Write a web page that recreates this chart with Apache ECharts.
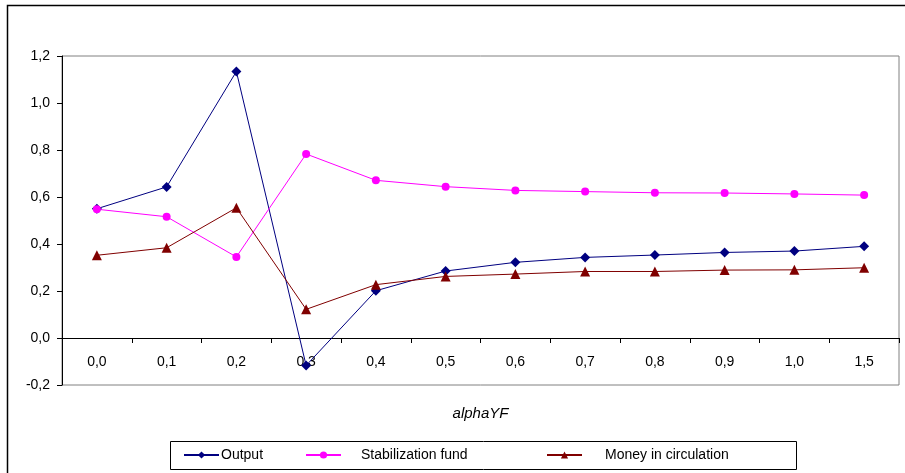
<!DOCTYPE html>
<html>
<head>
<meta charset="utf-8">
<script src="https://cdn.jsdelivr.net/npm/echarts@6/dist/echarts.min.js"></script>
<style>html,body{margin:0;padding:0;background:#fff}#c{width:905px;height:473px}</style>
</head>
<body>
<div id="c"></div>
<script>
const categories = ['0,0','0,1','0,2','0,3','0,4','0,5','0,6','0,7','0,8','0,9','1,0','1,5'];
const outputValues = [0.55, 0.643, 1.134, -0.117, 0.201, 0.285, 0.322, 0.343, 0.353, 0.364, 0.37, 0.39];
const fundValues = [0.548, 0.516, 0.345, 0.783, 0.671, 0.644, 0.628, 0.623, 0.618, 0.617, 0.613, 0.608];
const moneyValues = [0.352, 0.384, 0.554, 0.122, 0.227, 0.262, 0.272, 0.283, 0.283, 0.289, 0.29, 0.299];
const seriesNames = ['Output', 'Stabilization fund', 'Money in circulation'];
const xAxisTitle = 'alphaYF';

const font = 'Liberation Sans, Arial, sans-serif';
const chart = echarts.init(document.getElementById('c'), null, {renderer: 'canvas'});

const gridTop = 56, gridBottom = 88, H = 473;
const yMin = -0.2, yMax = 1.2;
const plotH = H - gridTop - gridBottom;
const zeroOffset = -plotH * (0 - yMin) / (yMax - yMin);

function legendFor(name, left, padLeft) {
  return {
    data: [name], left: left, top: 448, itemWidth: 35, itemHeight: 9, itemGap: 0,
    padding: 0,
    textStyle: {fontFamily: font, fontSize: 14, color: '#000', padding: [0, 0, 0, padLeft]},
    selectedMode: false
  };
}

chart.setOption({
  animation: false,
  backgroundColor: '#fff',
  graphic: [
    {type: 'rect', shape: {x: 7.5, y: 5.5, width: 1000, height: 1000}, style: {fill: 'none', stroke: '#000', lineWidth: 1.5}, silent: true},
    {type: 'rect', shape: {x: 170.5, y: 441.5, width: 626, height: 28}, style: {fill: 'none', stroke: '#000', lineWidth: 1}, silent: true}
  ],
  grid: {left: 62, right: 6, top: gridTop, bottom: gridBottom, show: true, borderColor: '#808080', borderWidth: 1},
  legend: [
    legendFor(seriesNames[0], 183, -3),
    legendFor(seriesNames[1], 305, 15),
    legendFor(seriesNames[2], 546, 18)
  ],
  xAxis: {
    type: 'category', data: categories, boundaryGap: true,
    offset: zeroOffset,
    name: xAxisTitle, nameLocation: 'middle', nameGap: 68,
    nameTextStyle: {fontFamily: font, fontSize: 15, fontStyle: 'italic', color: '#000'},
    axisLine: {onZero: false, lineStyle: {color: '#000', width: 1}},
    axisTick: {show: true, length: 5, inside: false, lineStyle: {color: '#000'}},
    axisLabel: {fontFamily: font, fontSize: 14, color: '#000', margin: 17},
    splitLine: {show: false}
  },
  yAxis: {
    type: 'value', min: yMin, max: yMax, interval: 0.2,
    axisLine: {show: true, lineStyle: {color: '#000', width: 1}},
    axisTick: {show: true, length: 5, lineStyle: {color: '#000'}},
    axisLabel: {fontFamily: font, fontSize: 14, color: '#000', margin: 12,
      formatter: v => (Math.round(v * 10) / 10).toFixed(1).replace('.', ',')},
    splitLine: {show: false}
  },
  series: [
    {name: seriesNames[0], type: 'line', data: outputValues, symbol: 'diamond', symbolSize: 10,
      lineStyle: {color: '#000080', width: 1}, itemStyle: {color: '#000080'}},
    {name: seriesNames[1], type: 'line', data: fundValues, symbol: 'circle', symbolSize: 8,
      lineStyle: {color: '#FF00FF', width: 1}, itemStyle: {color: '#FF00FF'}},
    {name: seriesNames[2], type: 'line', data: moneyValues, symbol: 'triangle', symbolSize: 10,
      lineStyle: {color: '#800000', width: 1}, itemStyle: {color: '#800000'}}
  ]
});
</script>
</body>
</html>
